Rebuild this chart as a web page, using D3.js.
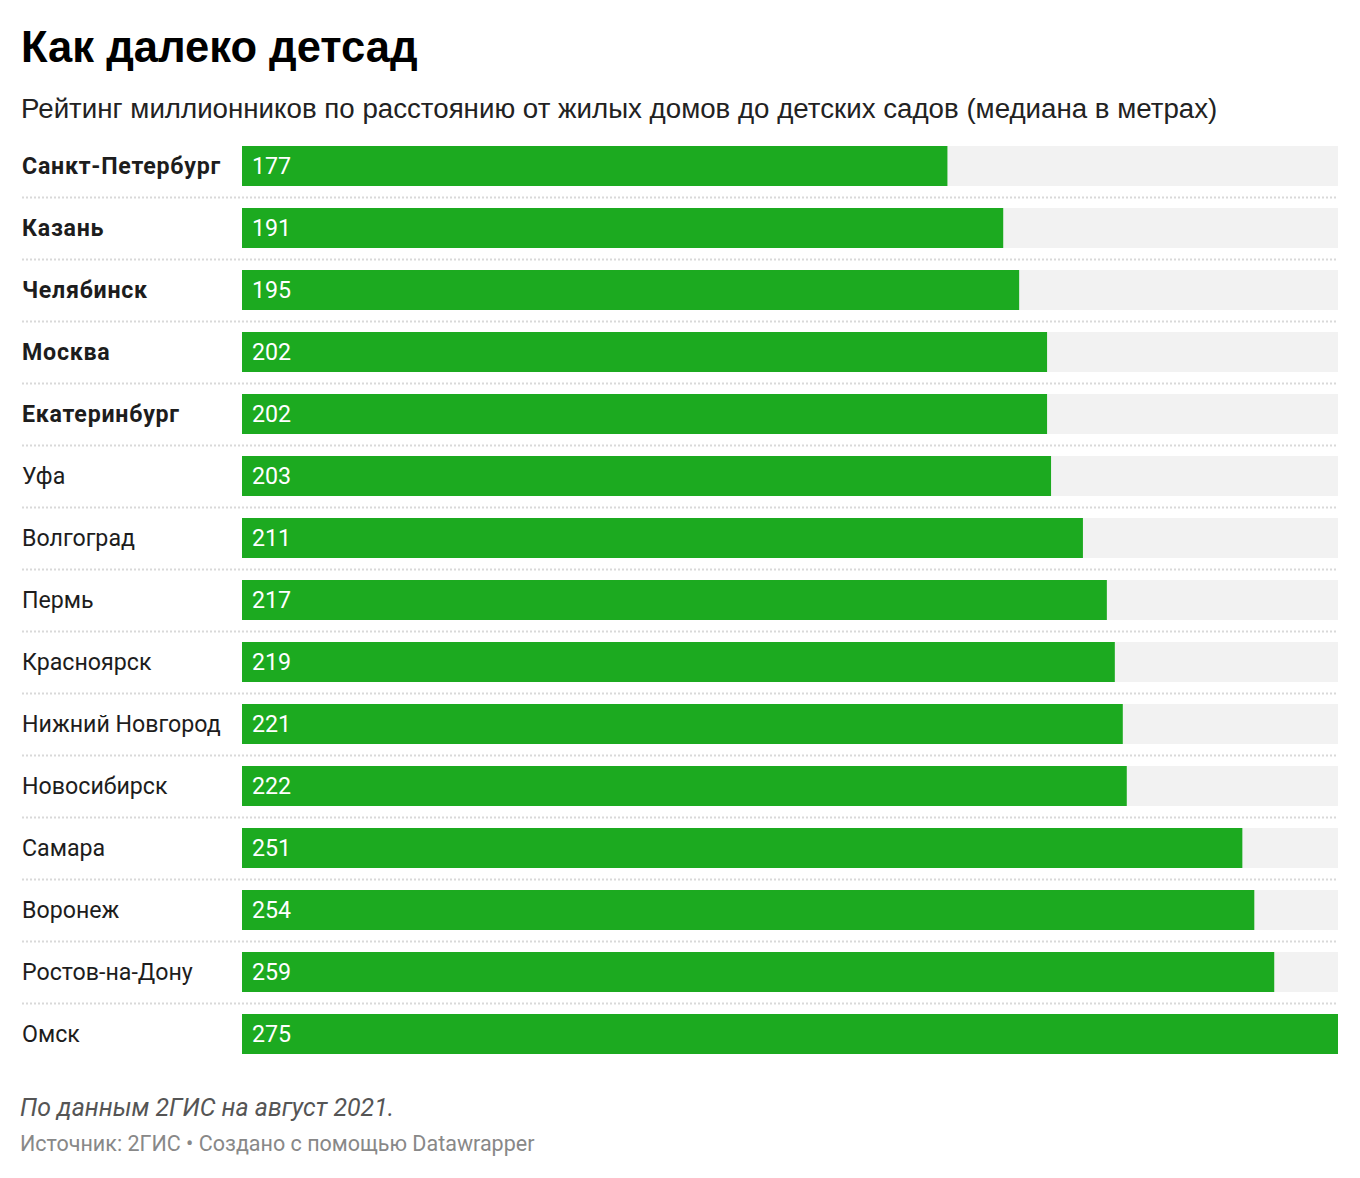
<!DOCTYPE html>
<html>
<head>
<meta charset="utf-8">
<script src="https://cdn.jsdelivr.net/npm/d3@7"></script>
<style>
  body { margin: 0; background: #fff; }
  svg text { font-family: Roboto, "Noto Sans", sans-serif; }
  svg text.head { font-family: "Liberation Sans", Arial, sans-serif; }
</style>
</head>
<body>
<div id="chart"></div>
<script>
// data
var cities = ["Санкт-Петербург", "Казань", "Челябинск", "Москва", "Екатеринбург", "Уфа",
  "Волгоград", "Пермь", "Красноярск", "Нижний Новгород", "Новосибирск", "Самара",
  "Воронеж", "Ростов-на-Дону", "Омск"];
var values = [177, 191, 195, 202, 202, 203, 211, 217, 219, 221, 222, 251, 254, 259, 275];
var boldCities = ["Санкт-Петербург", "Казань", "Челябинск", "Москва", "Екатеринбург"];

var title = "Как далеко детсад";
var subtitle = "Рейтинг миллионников по расстоянию от жилых домов до детских садов (медиана в метрах)";
var note = "По данным 2ГИС на август 2021.";
var source = "Источник: 2ГИС • Создано с помощью Datawrapper";

var W = 1360, H = 1178;
var margin = { left: 22, right: 22 };
var barX0 = 242, barX1 = 1338;
var top0 = 135, rowH = 62, barH = 40;

var svg = d3.select("#chart").append("svg")
    .attr("width", W)
    .attr("height", H);

svg.append("text")
    .attr("class", "head")
    .attr("x", 21).attr("y", 62)
    .attr("font-size", 43.5).attr("font-weight", 700)
    .attr("fill", "#000")
    .text(title);

svg.append("text")
    .attr("class", "head")
    .attr("x", 21).attr("y", 118)
    .attr("font-size", 27.7)
    .attr("fill", "#222")
    .text(subtitle);

var x = d3.scaleLinear()
    .domain([0, d3.max(values)])
    .range([barX0, barX1]);

var y = d3.scaleBand()
    .domain(cities)
    .range([top0, top0 + rowH * cities.length])
    .paddingInner((rowH - barH) / rowH)
    .paddingOuter((rowH - barH) / rowH / 2);

var rows = svg.append("g").selectAll("g")
    .data(cities)
    .enter().append("g");

// background track
rows.append("rect")
    .attr("x", barX0)
    .attr("y", function (d) { return y(d); })
    .attr("width", barX1 - barX0)
    .attr("height", y.bandwidth())
    .attr("fill", "#f2f2f2");

rows.append("rect")
    .attr("x", barX0)
    .attr("y", function (d) { return y(d); })
    .attr("width", function (d, i) { return x(values[i]) - barX0; })
    .attr("height", y.bandwidth())
    .attr("fill", "#1caa20");

rows.append("text")
    .attr("x", barX0 + 10)
    .attr("y", function (d) { return y(d) + y.bandwidth() / 2; })
    .attr("dy", "0.36em")
    .attr("font-size", 23.2)
    .attr("fill", "#fff")
    .text(function (d, i) { return values[i]; });

rows.append("text")
    .attr("x", margin.left)
    .attr("y", function (d) { return y(d) + y.bandwidth() / 2; })
    .attr("dy", "0.36em")
    .attr("font-size", 23.2)
    .attr("font-weight", function (d) { return boldCities.indexOf(d) >= 0 ? 700 : 400; })
    .attr("letter-spacing", function (d) { return boldCities.indexOf(d) >= 0 ? 0.75 : 0; })
    .attr("fill", "#1d1d1d")
    .text(function (d) { return d; });

// dotted separators between rows
svg.append("g").selectAll("line")
    .data(cities.slice(1))
    .enter().append("line")
    .attr("x1", margin.left)
    .attr("x2", barX1)
    .attr("y1", function (d) { return y(d) - (rowH - barH) / 2 + 0.5; })
    .attr("y2", function (d) { return y(d) - (rowH - barH) / 2 + 0.5; })
    .attr("stroke", "#d9d9d9")
    .attr("stroke-width", 2)
    .attr("stroke-dasharray", "2,2");

svg.append("text")
    .attr("x", 20).attr("y", 1116)
    .attr("font-size", 24.9)
    .attr("font-style", "italic")
    .attr("fill", "#555")
    .text(note);

svg.append("text")
    .attr("x", 20).attr("y", 1151)
    .attr("font-size", 21.5)
    .attr("fill", "#888")
    .text(source);
</script>
</body>
</html>
